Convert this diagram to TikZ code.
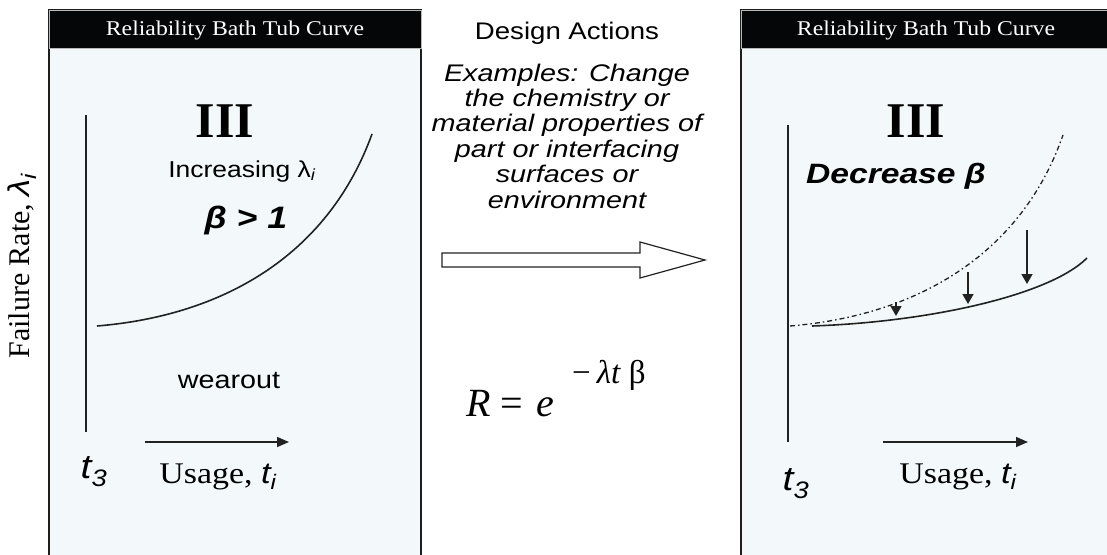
\documentclass[tikz,border=0pt]{standalone}
\usepackage{fontspec}
\usepackage{amsmath}
\setmainfont{Liberation Serif}
\newfontfamily\hdrfont[FakeStretch=1.13]{Liberation Serif}
\newfontfamily\lblfont[FakeStretch=1.15]{Liberation Sans}
\newfontfamily\widefont[FakeStretch=1.2]{Liberation Sans}
\usetikzlibrary{arrows.meta, positioning, calc}
\definecolor{panelbg}{HTML}{F3F9FA}
\definecolor{panelborder}{HTML}{1E1E1E}
\definecolor{headbg}{HTML}{050608}
\definecolor{inkgray}{HTML}{222222}
\tikzset{
  panelbox/.style={
    draw=panelborder,
    fill=panelbg,
    line width=2pt
  },
  headbar/.style={
    draw=gray!55,
    fill=headbg,
    line width=0.8pt
  },
  headtext/.style={
    text=white,
    font=\hdrfont\fontsize{21}{24}\selectfont,
    anchor=base,
    inner sep=0pt
  },
  romantext/.style={
    font=\bfseries\fontsize{50}{56}\selectfont,
    inner sep=0pt
  },
  sanstext/.style={
    font=\lblfont\fontsize{23}{26}\selectfont,
    anchor=base,
    inner sep=0pt
  },
  usagetext/.style={
    font=\hdrfont\fontsize{30}{34}\selectfont,
    anchor=base,
    inner sep=0pt
  },
  axisline/.style={
    draw=inkgray,
    line width=1.5pt
  },
  curveline/.style={
    draw=inkgray,
    line width=1.6pt
  },
  usagearrow/.style={
    -{Triangle[length=12pt, width=10pt]},
    draw=inkgray,
    line width=1.5pt
  },
  droparrow/.style={
    -{Triangle[length=10pt, width=11pt]},
    draw=inkgray,
    line width=1.6pt
  }
}

\begin{document}
\begin{tikzpicture}[x=1pt, y=-1pt]
  \useasboundingbox (0,0) rectangle (1107,554);

  % Panels
  \draw [panelbox] (49,10) rectangle (421,570);
  \draw [panelbox] (741,10) rectangle (1120,570);
  \draw [headbar] (49,10) rectangle (421,48);
  \draw [headbar] (741,10) rectangle (1120,48);
  \node (ttlL) [headtext] at (235,35) {Reliability Bath Tub Curve};
  \node (ttlR) [headtext] at (926,35) {Reliability Bath Tub Curve};

  % Left panel
  \node (romL) [romantext] at (225,121) {III};
  \node (incL) [sanstext] at (242,177) {Increasing λ\textsubscript{\itshape i}};
  \node (betaL) [sanstext, font=\lblfont\bfseries\itshape\fontsize{31}{34}\selectfont] at (246,228) {β > 1};
  \node (wearL) [sanstext, font=\lblfont\fontsize{25}{28}\selectfont] at (229,388) {wearout};
  \node (t3L) [sanstext, font=\lblfont\itshape\fontsize{34}{38}\selectfont] at (94,478) {t\textsubscript{3}};
  \node (usgL) [usagetext] at (218,483) {Usage, {\lblfont\itshape t\textsubscript{i}}};

  \coordinate (axLtop) at (86,115);
  \coordinate (axLbot) at (86,432);
  \draw [axisline] (axLtop) -- (axLbot);
  \coordinate (usLa) at (145,442);
  \coordinate (usLb) at (289,442);
  \draw [usagearrow] (usLa) -- (usLb);
  \coordinate (crvLa) at (97,326);
  \coordinate (crvLb) at (372,134);
  \draw [curveline] (crvLa) .. controls (230,315) and (330,250) .. (crvLb);

  % Vertical label
  \node (rateL) [rotate=90, inner sep=0pt, font=\fontsize{30}{34}\selectfont] at (22,266) {Failure Rate, {\lblfont\itshape λ\textsubscript{i}}};

  % Middle column
  \node (dsgn) [sanstext, font=\lblfont\fontsize{24}{27}\selectfont] at (567,39) {Design Actions};
  \node (exmp) [inner sep=0pt, align=center, font=\widefont\itshape\fontsize{24}{25.4}\selectfont] at (567,136)
    {Examples: Change\\the chemistry or\\material properties of\\part or interfacing\\surfaces or\\environment};
  \draw [draw=inkgray, fill=white, line width=1.2pt]
    (442,253) -- (640,253) -- (640,242) -- (705,260) -- (640,278) -- (640,267) -- (442,267) -- cycle;
  \node (relR) [anchor=base west, inner sep=0pt, font=\fontsize{40}{44}\selectfont] at (466,416) {\textit{R}\hspace{10pt}=\hspace{13pt}\textit{e}};
  \node (relX) [anchor=base west, inner sep=0pt, font=\fontsize{33}{36}\selectfont] at (572,383) {−\hspace{6pt}\textit{λt}\hspace{8pt}β};

  % Right panel
  \node (romR) [romantext] at (916,121) {III};
  \node (decR) [sanstext, font=\widefont\bfseries\itshape\fontsize{28}{31}\selectfont] at (896,183) {Decrease β};
  \node (t3R) [sanstext, font=\lblfont\itshape\fontsize{34}{38}\selectfont] at (796,490) {t\textsubscript{3}};
  \node (usgR) [usagetext] at (958,483) {Usage, {\lblfont\itshape t\textsubscript{i}}};

  \coordinate (axRtop) at (788,125);
  \coordinate (axRbot) at (788,442);
  \draw [axisline] (axRtop) -- (axRbot);
  \coordinate (usRa) at (883,442);
  \coordinate (usRb) at (1028,442);
  \draw [usagearrow] (usRa) -- (usRb);

  \coordinate (oldRa) at (790,326);
  \coordinate (oldRb) at (1063,135);
  \draw [curveline, line width=1.3pt, dash pattern=on 5pt off 3pt on 1.5pt off 3pt]
    (oldRa) .. controls (923,315) and (1023,250) .. (oldRb);
  \coordinate (newRa) at (812,326);
  \coordinate (newRb) at (1087,258);
  \draw [curveline] (newRa) .. controls (930,322) and (1050,295) .. (newRb);

  % Drops
  \coordinate (dr1a) at (896,302);
  \coordinate (dr1b) at (896,316);
  \coordinate (dr2a) at (968,272);
  \coordinate (dr2b) at (968,304);
  \coordinate (dr3a) at (1027,230);
  \coordinate (dr3b) at (1027,284);
  \draw [droparrow] (dr1a) -- (dr1b);
  \draw [droparrow] (dr2a) -- (dr2b);
  \draw [droparrow] (dr3a) -- (dr3b);

\end{tikzpicture}
\end{document}
